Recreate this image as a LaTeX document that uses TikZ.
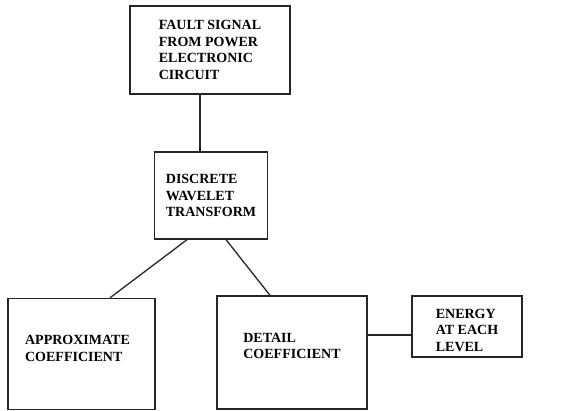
\documentclass[tikz,border=0pt]{standalone}
\usepackage{fontspec}
\setmainfont{Liberation Serif}
\usepackage{tikz}

\tikzset{
  blk/.style={draw=black!85, line width=1.4pt, align=left, inner sep=2pt,
    font=\bfseries\fontsize{14}{16.5}\selectfont},
  wire/.style={draw=black!85, line width=1.3pt}
}

\begin{document}
\begin{tikzpicture}[x=1pt,y=-1pt]
\useasboundingbox (0,0) rectangle (569,411);
\node[blk, minimum width=160pt, minimum height=88pt] (fault) at (210,50) {FAULT SIGNAL\\FROM POWER\\ELECTRONIC\\CIRCUIT};
\node[blk, minimum width=113pt, minimum height=87pt] (dwt) at (211,195.5) {DISCRETE\\WAVELET\\TRANSFORM};
\node[blk, minimum width=147pt, minimum height=111pt] (approx) at (81.5,354) {APPROXIMATE\hspace*{8pt}\\COEFFICIENT\\[-5pt]};
\node[blk, minimum width=150pt, minimum height=113pt] (detail) at (292,352.5) {DETAIL\\COEFFICIENT\hspace*{4pt}\\[-3.5pt]};
\node[blk, minimum width=110pt, minimum height=61pt] (energy) at (467,326.5) {\rule{0pt}{17pt}ENERGY\\AT EACH\\LEVEL};
\draw[wire] ([xshift=-10pt]fault.south) -- ([xshift=-11pt]dwt.north);
\draw[wire] ([xshift=-24pt]dwt.south) -- ([xshift=28.5pt]approx.north);
\draw[wire] ([xshift=15pt]dwt.south) -- ([xshift=-22pt]detail.north);
\draw[wire] ([yshift=17.5pt]detail.east) -- ([yshift=17.5pt]detail.east -| energy.west);
\end{tikzpicture}
\end{document}
